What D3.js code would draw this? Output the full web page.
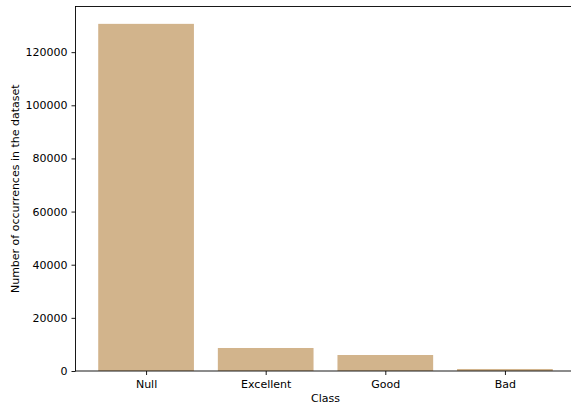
<!DOCTYPE html>
<html><head><meta charset="utf-8">
<script src="https://cdn.jsdelivr.net/npm/d3@7"></script>
<style>body{margin:0;background:#fff}svg{display:block}text{font-family:"DejaVu Sans",sans-serif}</style>
</head><body>
<script>
const categories = ["Null", "Excellent", "Good", "Bad"];
const counts = [130650, 8660, 6020, 760];
const yTicks = [0, 20000, 40000, 60000, 80000, 100000, 120000];

(function () {
const W = 571, H = 404;
const mL = 75.5, mR = 575.5, mT = 6.5, mB = 371;
const FS = 11;
const svg = d3.select("body").append("svg").attr("width", W).attr("height", H);

const x = d3.scaleLinear().domain([-0.59, 3.59]).range([mL, mR]);
const y = d3.scaleLinear().domain([0, d3.max(counts) * 1.05]).range([mB, mT]);

svg.append("g").selectAll("rect").data(counts).join("rect")
  .attr("x", (d, i) => x(i - 0.4)).attr("width", (d, i) => x(i + 0.4) - x(i - 0.4))
  .attr("y", d => y(d)).attr("height", d => y(0) - y(d))
  .attr("fill", "#d2b48c");

const ax = svg.append("g").attr("transform", `translate(0,${mB})`)
  .call(d3.axisBottom(x).tickValues(d3.range(categories.length)).tickFormat(i => categories[i]).tickSize(4).tickPadding(5.5));
const ay = svg.append("g").attr("transform", `translate(${mL},0)`)
  .call(d3.axisLeft(y).tickValues(yTicks).tickFormat(d3.format("d")).tickSize(4).tickPadding(4));
[ax, ay].forEach(g => {
  g.select(".domain").remove();
  g.selectAll("text").attr("font-size", FS).attr("fill", "#000").attr("font-family", "DejaVu Sans");
  g.selectAll("line").attr("stroke", "#000").attr("stroke-width", 0.9);
});

svg.append("rect").attr("x", mL).attr("y", mT).attr("width", mR - mL).attr("height", mB - mT)
  .attr("fill", "none").attr("stroke", "#000").attr("stroke-width", 0.9);

svg.append("text").attr("x", (mL + mR) / 2).attr("y", 401.5).attr("text-anchor", "middle")
  .attr("font-size", FS).text("Class");
svg.append("text").attr("transform", `translate(19,${(mT + mB) / 2}) rotate(-90)`)
  .attr("text-anchor", "middle").attr("font-size", FS).text("Number of occurrences in the dataset");
})();
</script>
</body></html>
